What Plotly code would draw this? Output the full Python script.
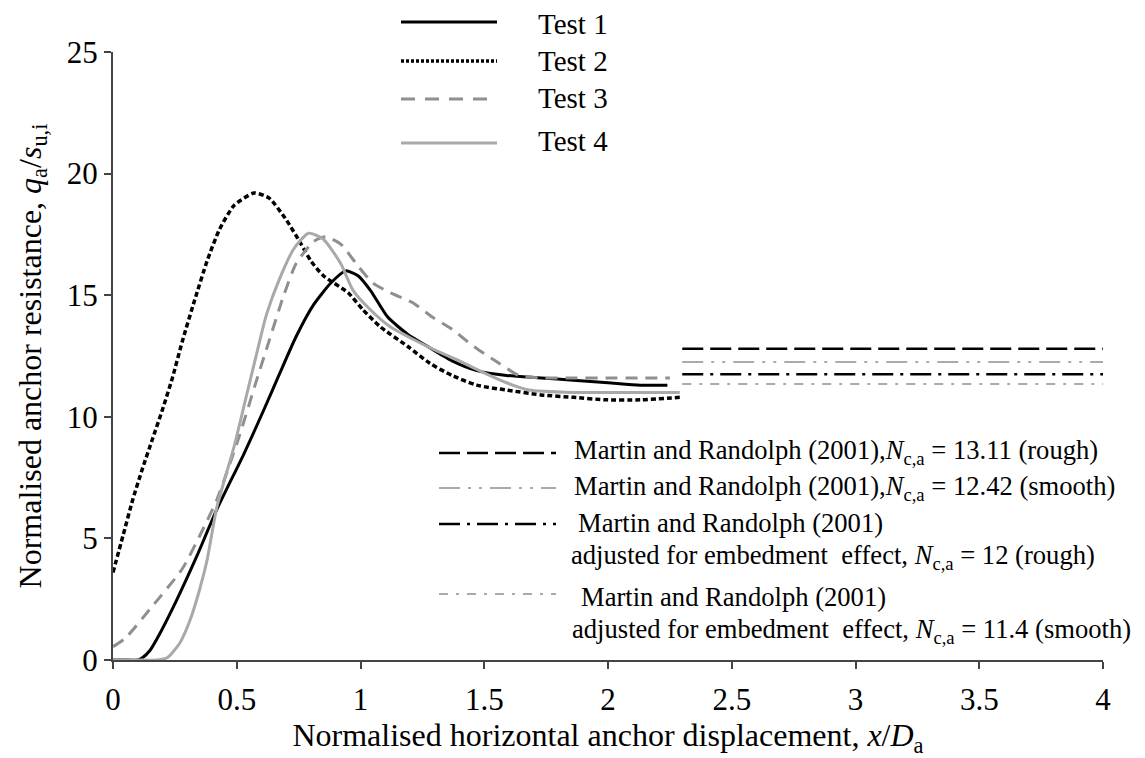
import plotly.graph_objects as go

# ---------------- data ----------------
test1_x = [0, 0.05, 0.10, 0.12, 0.15, 0.19, 0.24, 0.30, 0.34, 0.42, 0.53, 0.61, 0.67, 0.74, 0.81, 0.88, 0.94, 0.99, 1.04, 1.11, 1.19, 1.27, 1.37, 1.47, 1.59, 1.73, 1.86, 2.00, 2.13, 2.24]
test1_y = [0, 0, 0, 0.1, 0.4, 1.1, 2.1, 3.4, 4.3, 6.2, 8.5, 10.3, 11.7, 13.3, 14.6, 15.5, 16.0, 15.8, 15.2, 14.1, 13.4, 12.9, 12.3, 11.9, 11.7, 11.6, 11.5, 11.4, 11.3, 11.3]

test2_x = [0, 0.04, 0.08, 0.12, 0.16, 0.20, 0.24, 0.28, 0.33, 0.38, 0.43, 0.49, 0.57, 0.63, 0.70, 0.76, 0.80, 0.85, 0.95, 1.01, 1.08, 1.19, 1.28, 1.37, 1.47, 1.59, 1.73, 1.86, 1.99, 2.13, 2.29]
test2_y = [3.6, 5.1, 6.6, 7.9, 9.1, 10.3, 11.6, 13.1, 14.8, 16.4, 17.7, 18.7, 19.2, 19.0, 18.1, 17.1, 16.4, 15.8, 15.1, 14.4, 13.7, 12.9, 12.2, 11.7, 11.3, 11.1, 10.9, 10.8, 10.7, 10.7, 10.8]

test3_x = [0, 0.05, 0.15, 0.28, 0.35, 0.42, 0.51, 0.58, 0.63, 0.69, 0.74, 0.81, 0.86, 0.92, 0.99, 1.05, 1.12, 1.21, 1.29, 1.37, 1.45, 1.56, 1.64, 1.73, 1.86, 2.00, 2.13, 2.25]
test3_y = [0.55, 0.9, 2.1, 3.75, 5.1, 6.6, 9.2, 11.5, 13.1, 15.0, 16.3, 17.2, 17.4, 17.1, 16.2, 15.5, 15.1, 14.7, 14.1, 13.6, 12.95, 12.2, 11.7, 11.6, 11.6, 11.6, 11.6, 11.6]

test4_x = [0, 0.10, 0.18, 0.22, 0.27, 0.31, 0.35, 0.38, 0.42, 0.49, 0.54, 0.59, 0.62, 0.67, 0.73, 0.79, 0.85, 0.92, 0.97, 1.04, 1.12, 1.21, 1.31, 1.40, 1.48, 1.59, 1.68, 1.86, 2.00, 2.13, 2.29]
test4_y = [0, 0, 0, 0.1, 0.7, 1.6, 2.9, 4.1, 6.3, 8.8, 10.9, 13.0, 14.2, 15.6, 16.9, 17.55, 17.3, 16.3, 15.2, 14.4, 13.7, 13.2, 12.7, 12.3, 11.9, 11.4, 11.1, 11.0, 11.0, 11.0, 11.0]

test_names = ["Test 1", "Test 2", "Test 3", "Test 4"]

martin_x = [2.3, 4.0]
martin_levels = [12.8, 12.25, 11.75, 11.35]
martin_labels = [
    ["Martin and Randolph (2001),<i>N</i><sub>c,a</sub> = 13.11 (rough)"],
    ["Martin and Randolph (2001),<i>N</i><sub>c,a</sub> = 12.42 (smooth)"],
    ["Martin and Randolph (2001)", "adjusted for embedment  effect, <i>N</i><sub>c,a</sub> = 12 (rough)"],
    ["Martin and Randolph (2001)", "adjusted for embedment  effect, <i>N</i><sub>c,a</sub> = 11.4 (smooth)"],
]

x_ticks = [0, 0.5, 1, 1.5, 2, 2.5, 3, 3.5, 4]
y_ticks = [0, 5, 10, 15, 20, 25]

# ---------------- styles ----------------
FONT = "Liberation Serif, Times New Roman, serif"
test_styles = [
    dict(color="#000000", width=3, dash="solid"),
    dict(color="#000000", width=3.5, dash="5px,3px"),
    dict(color="#8f8f8f", width=3, dash="12px,8px"),
    dict(color="#a9a9a9", width=3, dash="solid"),
]
legend_test_dash = ["solid", "3px,2px", "14px,10px", "solid"]
martin_styles = [
    dict(color="#000000", width=2.5, dash="21px,7px"),
    dict(color="#aaaaaa", width=2, dash="21px,8px,3px,8px,3px,8px"),
    dict(color="#000000", width=2.5, dash="21px,7px,3px,7px"),
    dict(color="#aaaaaa", width=2, dash="9px,8px,3px,8px"),
]

OFF = 8  # page body margin of the html page
W, H = 1145 - OFF, 758 - OFF
L, R, T, B = 113 - OFF, 42, 52 - OFF, 98
PW, PH = W - L - R, H - T - B
Y0 = OFF + H - B  # page y of the x axis


def px(xp):
    return (xp - OFF - L) / PW


def py(yp):
    return (Y0 - yp) / PH


fig = go.Figure()
series = [(test1_x, test1_y), (test2_x, test2_y), (test3_x, test3_y), (test4_x, test4_y)]
for (xs, ys), name, st in zip(series, test_names, test_styles):
    fig.add_trace(go.Scatter(x=xs, y=ys, mode="lines", name=name, showlegend=False,
                             line=dict(color=st["color"], width=st["width"], dash=st["dash"],
                                       shape="spline", smoothing=0.6)))

for lvl, st, lab in zip(martin_levels, martin_styles, martin_labels):
    fig.add_trace(go.Scatter(x=martin_x, y=[lvl, lvl], mode="lines", showlegend=False,
                             name=" ".join(lab),
                             line=dict(color=st["color"], width=st["width"], dash=st["dash"])))

shapes = []
annotations = []

# top legend (tests)
test_leg_y = [22, 61, 99, 143]
test_text_y = [24, 61, 98, 141]
for name, st, dsh, yy, ty in zip(test_names, test_styles, legend_test_dash, test_leg_y, test_text_y):
    shapes.append(dict(type="line", xref="paper", yref="paper", x0=px(401), x1=px(497),
                       y0=py(yy), y1=py(yy),
                       line=dict(color=st["color"], width=st["width"], dash=dsh)))
    annotations.append(dict(xref="paper", yref="paper", x=px(537), y=py(ty), text=name,
                            showarrow=False, xanchor="left", yanchor="middle", borderpad=0,
                            font=dict(family=FONT, size=29, color="#000")))

# bottom-right legend (Martin & Randolph)
m_leg_line_y = [453, 488, 524, 594]
m_leg_text = [[(572, 452)], [(572, 488)], [(576, 523), (569, 557)], [(579, 597), (570, 631)]]
for st, yy, labs, pos in zip(martin_styles, m_leg_line_y, martin_labels, m_leg_text):
    shapes.append(dict(type="line", xref="paper", yref="paper", x0=px(439), x1=px(556),
                       y0=py(yy), y1=py(yy),
                       line=dict(color=st["color"], width=st["width"], dash=st["dash"])))
    for txt, (tx, ty) in zip(labs, pos):
        annotations.append(dict(xref="paper", yref="paper", x=px(tx), y=py(ty), text=txt,
                                showarrow=False, xanchor="left", yanchor="middle",
                                font=dict(family=FONT, size=26.6, color="#000")))

fig.update_layout(
    width=W, height=H,
    margin=dict(l=L, r=R, t=T, b=B, autoexpand=False),
    paper_bgcolor="white", plot_bgcolor="white",
    font=dict(family=FONT, color="#000"),
    shapes=shapes, annotations=annotations,
    showlegend=False,
)
fig.update_xaxes(range=[0, 4], tickvals=x_ticks, ticktext=[f"{v:g}" for v in x_ticks],
                 showgrid=False, zeroline=False, showline=True, linecolor="#444", linewidth=2,
                 ticks="outside", ticklen=7, tickwidth=2, tickcolor="#444",
                 ticklabelstandoff=4,
                 tickfont=dict(family=FONT, size=31, color="#000"),
                 title=dict(text="Normalised horizontal anchor displacement, <i>x</i>/<i>D</i><sub>a</sub>",
                            font=dict(family=FONT, size=32, color="#000"), standoff=12))
fig.update_yaxes(range=[0, 25], tickvals=y_ticks,
                 showgrid=False, zeroline=False, showline=True, linecolor="#444", linewidth=2,
                 ticks="outside", ticklen=7, tickwidth=2, tickcolor="#444",
                 tickfont=dict(family=FONT, size=31, color="#000"),
                 title=dict(text="Normalised anchor resistance, <i>q</i><sub>a</sub>/<i>s</i><sub>u,i</sub>",
                            font=dict(family=FONT, size=32, color="#000"), standoff=16))

fig.write_html("out.html")
